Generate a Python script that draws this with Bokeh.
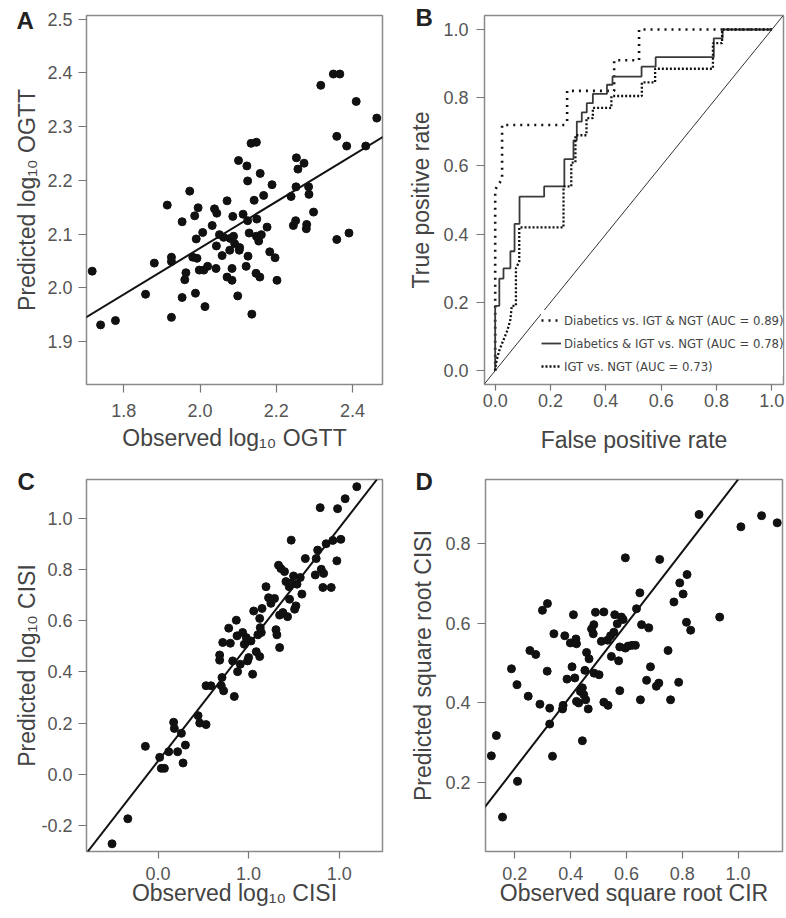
from bokeh.plotting import figure
from bokeh.models import Slope, Legend, LegendItem, FixedTicker
from bokeh.layouts import row, column
from bokeh.embed import file_html
from bokeh.resources import INLINE

# ---------------- data ----------------
# Panel A: observed vs predicted log10 OGTT
a_obs = [1.717, 1.739, 1.778, 1.857, 1.880, 1.914, 1.925, 1.925, 1.925, 1.953,
         1.953, 1.960, 1.963, 1.973, 1.981, 1.986, 1.988, 1.990, 1.992, 1.995,
         1.998, 2.007, 2.010, 2.013, 2.020, 2.032, 2.038, 2.042, 2.043, 2.044,
         2.051, 2.058, 2.062, 2.071, 2.071, 2.078, 2.079, 2.084, 2.084, 2.086,
         2.088, 2.091, 2.099, 2.101, 2.104, 2.103, 2.113, 2.121, 2.123, 2.125,
         2.125, 2.126, 2.129, 2.134, 2.136, 2.142, 2.148, 2.148, 2.147, 2.149,
         2.154, 2.157, 2.158, 2.161, 2.167, 2.176, 2.183, 2.189, 2.197, 2.202,
         2.239, 2.245, 2.251, 2.252, 2.253, 2.257, 2.273, 2.279, 2.280, 2.285,
         2.286, 2.298, 2.317, 2.350, 2.359, 2.359, 2.367, 2.385, 2.391, 2.410,
         2.435, 2.464]
a_pred = [2.031, 1.931, 1.939, 1.988, 2.046, 2.154, 2.057, 2.049, 1.945, 2.123,
          1.982, 2.015, 2.028, 2.180, 2.057, 2.134, 1.990, 2.091, 2.055, 2.149,
          2.033, 2.103, 2.033, 1.965, 2.040, 2.116, 2.147, 2.036, 2.078, 2.139,
          2.099, 2.060, 2.094, 2.162, 2.020, 2.070, 2.092, 2.014, 2.036, 2.133,
          2.096, 2.082, 1.985, 2.237, 2.075, 2.070, 2.137, 2.040, 2.227, 2.199,
          2.125, 2.059, 2.102, 2.269, 1.951, 2.163, 2.271, 2.096, 2.027, 2.128,
          2.087, 2.020, 2.213, 2.099, 2.172, 2.113, 2.067, 2.192, 2.056, 2.014,
          2.170, 2.116, 2.125, 2.188, 2.242, 2.221, 2.232, 2.110, 2.118, 2.188,
          2.174, 2.141, 2.377, 2.398, 2.282, 2.090, 2.398, 2.264, 2.102, 2.347,
          2.264, 2.316]
a_fit_slope, a_fit_intercept = 0.431, 1.212
a_xticks = [1.8, 2.0, 2.2, 2.4]
a_yticks = [1.9, 2.0, 2.1, 2.2, 2.3, 2.4, 2.5]

# Panel B: ROC curves (false positive rate, true positive rate)
roc1_fpr = [0.0, 0.0, 0.01, 0.025, 0.025, 0.25, 0.26, 0.26, 0.43, 0.43, 0.52, 0.52, 1.0]
roc1_tpr = [0.0, 0.53, 0.545, 0.56, 0.72, 0.72, 0.73, 0.82, 0.82, 0.91, 0.91, 1.0, 1.0]
roc2_fpr = [0.0, 0.0, 0.015, 0.015, 0.03, 0.03, 0.055, 0.055, 0.07, 0.07, 0.088, 0.088,
            0.177, 0.177, 0.25, 0.25, 0.283, 0.283, 0.295, 0.295, 0.313, 0.313, 0.331,
            0.331, 0.353, 0.353, 0.404, 0.404, 0.424, 0.424, 0.529, 0.529, 0.58, 0.58,
            0.79, 0.79, 0.822, 0.822, 1.0]
roc2_tpr = [0.0, 0.19, 0.19, 0.27, 0.27, 0.30, 0.30, 0.35, 0.35, 0.43, 0.43, 0.51,
            0.51, 0.54, 0.54, 0.62, 0.62, 0.675, 0.675, 0.73, 0.73, 0.757, 0.757,
            0.784, 0.784, 0.811, 0.811, 0.838, 0.838, 0.862, 0.862, 0.891, 0.891, 0.919,
            0.919, 0.974, 0.974, 1.0, 1.0]
roc3_fpr = [0.0, 0.005, 0.015, 0.03, 0.045, 0.055, 0.06, 0.075, 0.075, 0.087, 0.087,
            0.247, 0.247, 0.275, 0.275, 0.29, 0.29, 0.33, 0.33, 0.353, 0.353, 0.42,
            0.42, 0.53, 0.53, 0.578, 0.578, 0.787, 0.787, 0.82, 0.82, 1.0]
roc3_tpr = [0.0, 0.03, 0.06, 0.09, 0.12, 0.15, 0.19, 0.19, 0.30, 0.32, 0.42,
            0.42, 0.54, 0.54, 0.61, 0.61, 0.69, 0.69, 0.74, 0.74, 0.770, 0.770,
            0.805, 0.805, 0.845, 0.845, 0.885, 0.885, 0.96, 0.96, 1.0, 1.0]
roc_labels = ["Diabetics vs. IGT & NGT (AUC = 0.89)",
              "Diabetics & IGT vs. NGT (AUC = 0.78)",
              "IGT vs. NGT (AUC = 0.73)"]
b_ticks = [0.0, 0.2, 0.4, 0.6, 0.8, 1.0]

# Panel C: observed vs predicted log10 CISI
c_obs = [-0.254, -0.167, -0.070, 0.009, 0.018, 0.035, 0.059, 0.086, 0.090, 0.108,
         0.129, 0.138, 0.151, 0.221, 0.230, 0.265, 0.265, 0.292, 0.340, 0.340,
         0.349, 0.353, 0.362, 0.357, 0.390, 0.399, 0.412, 0.421, 0.432, 0.436,
         0.439, 0.454, 0.467, 0.476, 0.487, 0.494, 0.500, 0.513, 0.522, 0.542,
         0.551, 0.561, 0.561, 0.570, 0.574, 0.564, 0.596, 0.610, 0.643, 0.651,
         0.656, 0.671, 0.665, 0.678, 0.671, 0.689, 0.698, 0.706, 0.715, 0.724,
         0.726, 0.735, 0.735, 0.748, 0.754, 0.761, 0.767, 0.785, 0.794, 0.813,
         0.868, 0.873, 0.881, 0.895, 0.901, 0.910, 0.914, 0.928, 0.956, 0.965,
         0.987, 0.991, 1.009, 1.033, 1.097, 0.528, 0.623]
c_pred = [-0.272, -0.174, 0.109, 0.066, 0.023, 0.023, 0.088, 0.203, 0.179, 0.088,
          0.160, 0.044, 0.114, 0.229, 0.200, 0.194, 0.346, 0.346, 0.466, 0.446,
          0.346, 0.378, 0.326, 0.515, 0.571, 0.512, 0.443, 0.304, 0.602, 0.541,
          0.401, 0.430, 0.554, 0.508, 0.534, 0.443, 0.456, 0.521, 0.391, 0.479,
          0.545, 0.460, 0.609, 0.554, 0.648, 0.573, 0.733, 0.690, 0.687, 0.565,
          0.545, 0.495, 0.817, 0.804, 0.622, 0.632, 0.792, 0.753, 0.616, 0.733,
          0.684, 0.915, 0.746, 0.775, 0.645, 0.658, 0.743, 0.769, 0.704, 0.843,
          0.779, 0.843, 0.876, 1.042, 0.801, 0.730, 0.785, 0.901, 0.730, 0.914,
          0.834, 1.038, 0.918, 1.077, 1.124, 0.638, 0.668]
c_fit_slope, c_fit_intercept = 0.911, 0.0515
c_xticks = [0.0, 0.5, 1.0]
c_xtick_labels = ["0.0", "1.0", "1.0"]
c_yticks = [-0.2, 0.0, 0.2, 0.4, 0.6, 0.8, 1.0]

# Panel D: observed square root CIR vs predicted square root CISI
d_obs = [0.116, 0.134, 0.156, 0.188, 0.208, 0.210, 0.248, 0.254, 0.275, 0.290,
         0.299, 0.317, 0.316, 0.325, 0.325, 0.335, 0.340, 0.371, 0.373, 0.379,
         0.387, 0.399, 0.405, 0.410, 0.415, 0.419, 0.421, 0.421, 0.429, 0.435,
         0.442, 0.442, 0.447, 0.451, 0.454, 0.457, 0.463, 0.466, 0.475, 0.481,
         0.483, 0.484, 0.489, 0.502, 0.510, 0.519, 0.519, 0.534, 0.532, 0.543,
         0.546, 0.555, 0.558, 0.567, 0.572, 0.576, 0.576, 0.582, 0.588, 0.596,
         0.596, 0.606, 0.620, 0.632, 0.636, 0.648, 0.650, 0.654, 0.672, 0.680,
         0.686, 0.707, 0.716, 0.719, 0.749, 0.758, 0.770, 0.787, 0.791, 0.803,
         0.817, 0.815, 0.830, 0.860, 0.934, 1.010, 1.084, 1.140]
d_pred = [0.266, 0.317, 0.112, 0.485, 0.445, 0.202, 0.416, 0.531, 0.521, 0.396,
          0.632, 0.649, 0.479, 0.386, 0.346, 0.265, 0.573, 0.384, 0.393, 0.568,
          0.459, 0.550, 0.490, 0.621, 0.462, 0.560, 0.548, 0.403, 0.399, 0.428,
          0.304, 0.437, 0.420, 0.481, 0.407, 0.526, 0.384, 0.510, 0.585, 0.573,
          0.596, 0.474, 0.627, 0.470, 0.554, 0.628, 0.401, 0.393, 0.557, 0.568,
          0.516, 0.577, 0.621, 0.598, 0.505, 0.430, 0.540, 0.615, 0.609, 0.764,
          0.537, 0.542, 0.544, 0.544, 0.636, 0.676, 0.407, 0.596, 0.456, 0.588,
          0.490, 0.441, 0.449, 0.760, 0.531, 0.407, 0.653, 0.451, 0.701, 0.673,
          0.722, 0.602, 0.582, 0.873, 0.615, 0.842, 0.870, 0.852]
d_fit_slope, d_fit_intercept = 0.908, 0.053
d_xticks = [0.2, 0.4, 0.6, 0.8, 1.0]
d_yticks = [0.2, 0.4, 0.6, 0.8]

# ---------------- styling ----------------
FONT = "Liberation Sans"
NARROW = "'DejaVu Sans Condensed', 'Liberation Sans Narrow', sans-serif"
TEXT = "#444444"
TICK = "#555555"
FRAME = "#8a8a8a"


def make_fig(width, height, xr, yr, borders, xticks, yticks, xlabel, ylabel,
             xaxis_style, yaxis_style, letter, letter_pos, xlab_over=None):
    bl, br, bt, bb = borders
    p = figure(width=width, height=height, x_range=xr, y_range=yr,
               output_backend="svg", toolbar_location=None,
               min_border_left=bl, min_border_right=br,
               min_border_top=bt, min_border_bottom=bb)
    p.grid.visible = False
    p.background_fill_color = "white"
    p.border_fill_color = "white"
    p.outline_line_color = FRAME
    p.outline_line_width = 1.5
    p.xaxis.ticker = FixedTicker(ticks=xticks)
    p.yaxis.ticker = FixedTicker(ticks=yticks)
    p.xaxis.major_label_overrides = xlab_over or {t: f"{t:.1f}" for t in xticks}
    p.yaxis.major_label_overrides = {t: f"{t:.1f}" for t in yticks}
    p.xaxis.axis_label = xlabel
    p.yaxis.axis_label = ylabel
    for ax in p.axis:
        ax.axis_line_color = None
        ax.major_tick_line_color = "#777777"
        ax.major_tick_line_width = 1.2
        ax.major_tick_in = 0
        ax.minor_tick_line_color = None
        ax.major_label_text_font = FONT
        ax.major_label_text_font_size = "18px"
        ax.major_label_text_color = TICK
        ax.axis_label_text_font = FONT
        ax.axis_label_text_font_size = "23px"
        ax.axis_label_text_font_style = "normal"
        ax.axis_label_text_color = TEXT
    for ax, (tick_out, lab_standoff, axlab_standoff) in ((p.xaxis[0], xaxis_style),
                                                          (p.yaxis[0], yaxis_style)):
        ax.major_tick_out = tick_out
        ax.major_label_standoff = lab_standoff
        ax.axis_label_standoff = axlab_standoff
    # panel letter, drawn as the plot title beside the top-left corner of the frame
    offset, standoff, blank_lines = letter_pos
    p.title.text = "\n" * blank_lines + letter
    p.title.align = "left"
    p.title.vertical_align = "top"
    p.title.offset = offset
    p.title.standoff = standoff
    p.title.text_font = FONT
    p.title.text_font_style = "bold"
    p.title.text_font_size = "24px"
    p.title.text_line_height = 0.25
    p.title.text_color = "#222222"
    return p


# Panel A
pA = make_fig(393, 459, (1.702, 2.479), (1.820, 2.507), (86, 11, 15, 72),
              a_xticks, a_yticks, "Observed log₁₀ OGTT", "Predicted log₁₀ OGTT",
              (8, 11, 5), (8, 6, 4), "A", (-70, -45, 2))
pA.scatter(a_obs, a_pred, size=8, color="#111111")
pA.add_layout(Slope(gradient=a_fit_slope, y_intercept=a_fit_intercept,
                    line_color="#111111", line_width=2))

# Panel B
pB = make_fig(393, 459, (-0.0386, 1.042), (-0.0405, 1.041), (91, 3, 10, 75),
              b_ticks, b_ticks, "False positive rate", "True positive rate",
              (6, 3, 17), (8, 8, 6), "B", (-69, -36, 1))
pB.add_layout(Slope(gradient=1, y_intercept=0, line_color="#333333", line_width=1))
r1 = pB.line(roc1_fpr, roc1_tpr, line_color="#111111", line_width=2.6,
             line_dash="2 5")
r2 = pB.line(roc2_fpr, roc2_tpr, line_color="#3a3a3a", line_width=1.8)
r3 = pB.line(roc3_fpr, roc3_tpr, line_color="#111111", line_width=2.3,
             line_dash="2 2")
legend = Legend(items=[LegendItem(label=roc_labels[0], renderers=[r1]),
                       LegendItem(label=roc_labels[1], renderers=[r2]),
                       LegendItem(label=roc_labels[2], renderers=[r3])],
                location=(57, 8), background_fill_color="white",
                background_fill_alpha=1.0, border_line_color=None,
                label_text_font=NARROW, label_text_font_size="13px",
                label_text_color=TEXT, glyph_width=20, glyph_height=14,
                label_standoff=3, label_height=20, spacing=3, padding=2, margin=0)
pB.add_layout(legend)

# Panel C
pC = make_fig(393, 459, (-0.395, 1.239), (-0.302, 1.152), (86, 11, 20, 66),
              c_xticks, c_yticks, "Observed log₁₀ CISI", "Predicted log₁₀ CISI",
              (7, 8, -3), (8, 6, -2), "C", (-69, -50, 2),
              xlab_over=dict(zip(c_xticks, c_xtick_labels)))
pC.scatter(c_obs, c_pred, size=8, color="#111111")
pC.add_layout(Slope(gradient=c_fit_slope, y_intercept=c_fit_intercept,
                    line_color="#111111", line_width=2))

# Panel D
pD = make_fig(393, 459, (0.095, 1.159), (0.0255, 0.961), (92, 4, 20, 67),
              d_xticks, d_yticks, "Observed square root CIR", "Predicted square root CISI",
              (7, 8, -3), (8, 7, 6), "D", (-70, -50, 2))
pD.scatter(d_obs, d_pred, size=8, color="#111111")
pD.add_layout(Slope(gradient=d_fit_slope, y_intercept=d_fit_intercept,
                    line_color="#111111", line_width=2))

layout = column(row(pA, pB), row(pC, pD))

with open("out.html", "w") as f:
    f.write(file_html(layout, INLINE))
